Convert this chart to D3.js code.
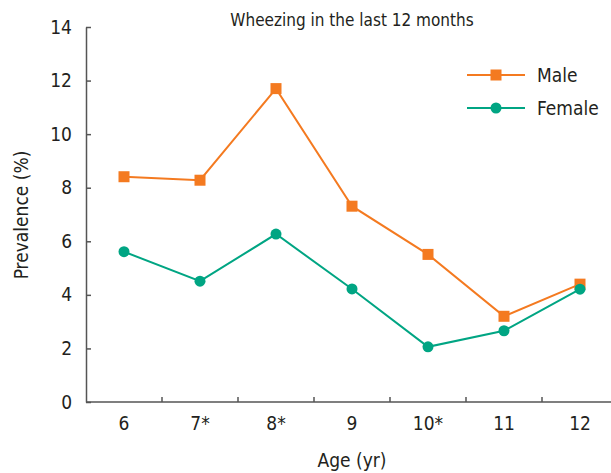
<!DOCTYPE html>
<html><head><meta charset="utf-8">
<script src="https://cdn.jsdelivr.net/npm/d3@7"></script>
<style>
body{margin:0;background:#fff;}
svg text{font-family:"Liberation Sans Narrow","DejaVu Sans Condensed",sans-serif;fill:#231f20;}
</style></head><body>
<svg id="c" width="611" height="473"></svg>
<script>
const categories = ["6","7*","8*","9","10*","11","12"];
const male = [8.41, 8.28, 11.70, 7.31, 5.51, 3.20, 4.40];
const female = [5.61, 4.51, 6.27, 4.22, 2.06, 2.66, 4.21];
const yTicks = [0,2,4,6,8,10,12,14];
const seriesNames = ["Male","Female"];
const colors = ["#f47a20","#00a583"];

const svg = d3.select("#c");
const x = d3.scaleBand().domain(categories).range([86, 618]).padding(0);
const y = d3.scaleLinear().domain([0,14]).range([402, 27]);
const axisColor = "#555";

// y axis
const ya = svg.append("g").attr("transform","translate(86,0)")
  .call(d3.axisLeft(y).tickValues(yTicks).tickSizeInner(-5).tickSizeOuter(0).tickPadding(14));
ya.select(".domain").attr("stroke",axisColor).attr("stroke-width",1.5);
ya.selectAll(".tick line").attr("stroke",axisColor).attr("stroke-width",1.5);
ya.selectAll(".tick text").attr("font-size",19).attr("font-family",null).style("fill","#231f20");

// x axis
const xa = svg.append("g").attr("transform","translate(0,402)");
xa.append("line").attr("x1",86).attr("x2",611).attr("y1",0).attr("y2",0)
  .attr("stroke",axisColor).attr("stroke-width",1.5);
xa.selectAll("line.t").data(categories.slice(1)).enter().append("line")
  .attr("x1",d=>x(d)).attr("x2",d=>x(d)).attr("y1",0).attr("y2",-5)
  .attr("stroke",axisColor).attr("stroke-width",1.5);
xa.selectAll("text.l").data(categories).enter().append("text")
  .attr("x",d=>x(d)+x.bandwidth()/2).attr("y",28)
  .attr("text-anchor","middle").attr("font-size",19).text(d=>d);

// labels
svg.append("text").attr("x",352).attr("y",467).attr("text-anchor","middle")
  .attr("font-size",19).text("Age (yr)");
svg.append("text").attr("transform","translate(28,215) rotate(-90)").attr("text-anchor","middle")
  .attr("font-size",19).text("Prevalence (%)");
svg.append("text").attr("x",352).attr("y",26).attr("text-anchor","middle")
  .attr("font-size",17).text("Wheezing in the last 12 months");

const cx = d => x(d)+x.bandwidth()/2;
const line = d3.line().x((d,i)=>cx(categories[i])).y(d=>y(d));

[male,female].forEach((s,k)=>{
  svg.append("path").datum(s).attr("d",line).attr("fill","none")
    .attr("stroke",colors[k]).attr("stroke-width",2);
});
svg.selectAll("rect.m").data(male).enter().append("rect")
  .attr("x",(d,i)=>cx(categories[i])-5.5).attr("y",d=>y(d)-5.5)
  .attr("width",11).attr("height",11).attr("fill",colors[0]);
svg.selectAll("circle.f").data(female).enter().append("circle")
  .attr("cx",(d,i)=>cx(categories[i])).attr("cy",d=>y(d)).attr("r",5.5).attr("fill",colors[1]);

// legend
const lg = svg.append("g");
seriesNames.forEach((n,k)=>{
  const ly = 75 + k*33;
  lg.append("line").attr("x1",467).attr("x2",525).attr("y1",ly).attr("y2",ly)
    .attr("stroke",colors[k]).attr("stroke-width",2);
  if(k===0) lg.append("rect").attr("x",496-5.5).attr("y",ly-5.5).attr("width",11).attr("height",11).attr("fill",colors[k]);
  else lg.append("circle").attr("cx",496).attr("cy",ly).attr("r",5.5).attr("fill",colors[k]);
  lg.append("text").attr("x",537).attr("y",ly+7).attr("font-size",19).text(n);
});
</script></body></html>
